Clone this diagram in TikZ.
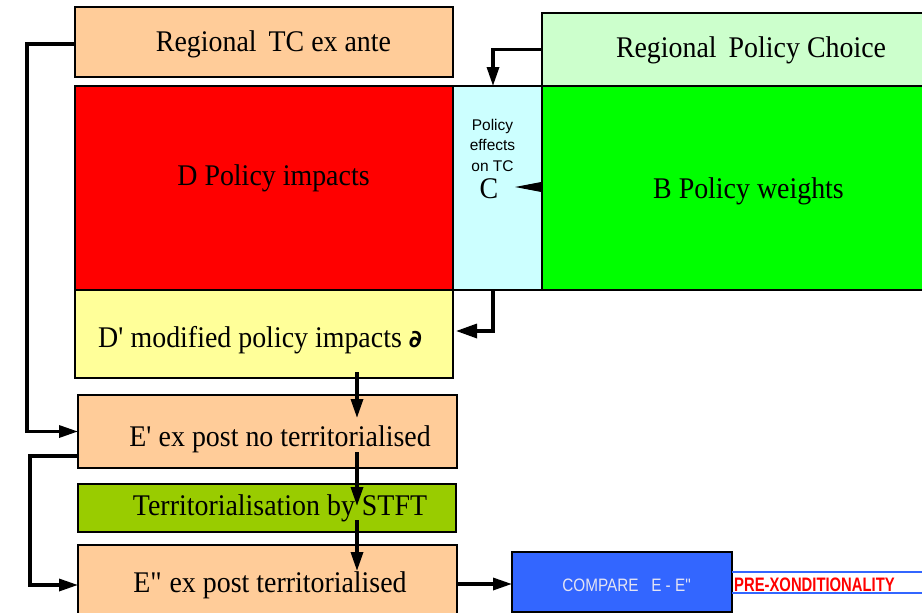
\documentclass[tikz,border=0pt]{standalone}
\usepackage{fontspec}
\setmainfont{Liberation Serif}[FakeStretch=0.93]
\newfontfamily\smallsans{Liberation Sans}
\newfontfamily\cmpfont[FakeStretch=0.85]{Liberation Sans}
\newfontfamily\narrowsans[FakeStretch=0.76]{Liberation Sans}
\newfontfamily\symbfont{DejaVu Sans}
\usetikzlibrary{arrows.meta}

\definecolor{peach}{HTML}{FFCC99}
\definecolor{palegreen}{HTML}{CCFFCC}
\definecolor{impactred}{HTML}{FF0000}
\definecolor{palecyan}{HTML}{CCFFFF}
\definecolor{weightgreen}{HTML}{00FF00}
\definecolor{paleyellow}{HTML}{FFFF99}
\definecolor{olivegreen}{HTML}{99CC00}
\definecolor{compareblue}{HTML}{3366FF}
\definecolor{comparetext}{HTML}{E4E4F4}

\tikzset{
  box/.style={draw=black, line width=2pt, inner sep=0pt, outer sep=0pt, anchor=north west},
  big/.style={font=\fontsize{30}{36}\selectfont, anchor=base, inner sep=0pt},
  tiny/.style={font=\smallsans\fontsize{15.5}{18}\selectfont, anchor=base, inner sep=0pt},
  arr/.style={line width=3.3pt, -{Triangle[length=19pt,width=12pt]}},
  arrbig/.style={line width=3.3pt, -{Triangle[length=21pt,width=14pt]}},
  band/.style={draw=compareblue, line width=2.5pt}
}

\begin{document}
\begin{tikzpicture}[x=1pt,y=-1pt]
\useasboundingbox (0,0) rectangle (922,613);
\fill[white] (0,0) rectangle (922,613);
\clip (0,0) rectangle (922,613);

% boxes
\node[box, fill=peach, minimum width=378, minimum height=70] (ante) at (75,7) {};
\node[box, fill=palegreen, minimum width=420, minimum height=73] (rpc) at (542,13) {};
\node[box, fill=impactred, minimum width=378, minimum height=204] (D) at (75,86) {};
\node[box, fill=palecyan, minimum width=89, minimum height=204] (C) at (453,86) {};
\node[box, fill=weightgreen, minimum width=420, minimum height=204] (B) at (542,86) {};
\node[box, fill=paleyellow, minimum width=378, minimum height=88] (Dp) at (75,290) {};
\node[box, fill=peach, minimum width=379, minimum height=73] (Ep) at (78,395) {};
\node[box, fill=olivegreen, minimum width=378, minimum height=48] (terr) at (78,484) {};
\node[box, fill=peach, minimum width=379, minimum height=80] (Epp) at (78,545) {};
\node[box, fill=compareblue, line width=2.5pt, minimum width=220, minimum height=60] (cmp) at (512,552) {};

% labels
\node[big] (tante) at (273.5,51) {Regional\, TC ex ante};
\node[big] (trpc) at (751,57) {Regional\, Policy Choice};
\node[big] (tD) at (273.5,185) {D Policy impacts};
\node[big] (tB) at (748.5,198) {B Policy weights};
\node[big] (tDp) at (260,347) {D\textquotesingle{} modified policy impacts {\symbfont\bfseries\fontsize{24}{28}\selectfont ∂}};
\node[big] (tEp) at (280,446) {E\textquotesingle{} ex post no territorialised};
\node[big] (tterr) at (280,515) {Territorialisation by STFT};
\node[big] (tEpp) at (270,592) {E\textquotedbl{} ex post territorialised};
\node[tiny] (tc1) at (492.5,130) {Policy};
\node[tiny] (tc2) at (492.5,150) {effects};
\node[tiny] (tc3) at (492.5,171) {on TC};
\node[big] (tc4) at (489,198) {C};
\node[font=\cmpfont\fontsize{18}{20}\selectfont, text=comparetext, anchor=base, inner sep=0pt] (tcmp) at (627,591) {COMPARE\ \ \ E - E\textquotedbl};
\node[font=\narrowsans\bfseries\fontsize{19.5}{22}\selectfont, text=impactred, anchor=base west, inner sep=0pt] (tpre) at (734,591) {PRE-XONDITIONALITY};

% connectors
\draw[arr] ([yshift=-2pt]ante.west) -- ++(-48,0) |- (Ep.west);
\draw[arr] ([yshift=-24.5pt]Ep.west) -- ++(-48,0) |- (Epp.west);
\draw[arr] (rpc.west) -| ([xshift=-4.5pt]C.north);
\draw[line width=1pt, -{Triangle[length=27pt,width=10pt]}] ([yshift=1pt]B.west) -- ++(-27,0);
\draw[arrbig] ([xshift=-4.5pt]C.south) |- ([yshift=3pt,xshift=3pt]Dp.east);
\coordinate (mid) at (357,0);
\draw[arr] ([yshift=6pt]Dp.south -| mid) -- ([yshift=-23pt]Ep.north -| mid);
\draw[arr] ([yshift=16pt]Ep.south -| mid) -- ([yshift=-22pt]terr.north -| mid);
\draw[arr] ([yshift=12pt]terr.south -| mid) -- ([yshift=-26pt]Epp.north -| mid);
\draw[arr] ([yshift=1pt]Epp.east) -- ([yshift=1pt]Epp.east -| cmp.west);
\draw[band] ([yshift=10pt]cmp.east) -- ++(200,0);
\draw[band] ([yshift=-11pt]cmp.east) -- ++(200,0);
\end{tikzpicture}
\end{document}
